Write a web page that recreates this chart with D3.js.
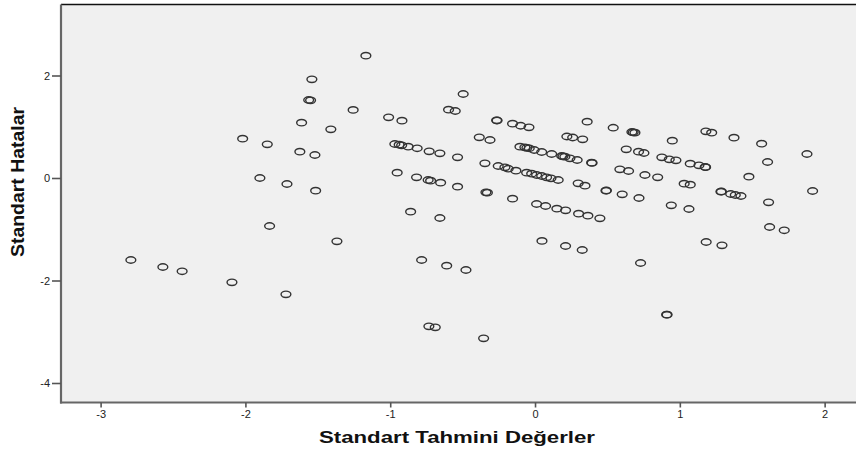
<!DOCTYPE html>
<html><head><meta charset="utf-8">
<script src="https://cdn.jsdelivr.net/npm/d3@7"></script>
<style>html,body{margin:0;padding:0;background:#fff}svg{display:block}</style>
</head><body>
<svg id="c" width="856" height="452"></svg>
<script>
const xTitle = "Standart Tahmini Değerler";
const yTitle = "Standart Hatalar";
const xTicks = [-3, -2, -1, 0, 1, 2];
const yTicks = [-4, -2, 0, 2];

const predicted = [
 -1.168,-1.541,-1.563,-1.550,-1.256,-1.612,-1.410,-2.019,-1.849,-1.624,-1.520,-1.900,-1.713,-1.515,-1.833,-1.368,
 -2.791,-2.570,-2.437,-2.093,-1.720,
 -0.496,-0.597,-0.551,-1.011,-0.919,-0.265,-0.262,-0.155,-0.099,-0.042,0.360,-0.385,-0.311,0.220,0.260,0.329,
 -0.968,-0.938,-0.921,-0.876,-0.814,-0.731,-0.657,-0.535,
 -0.104,-0.070,-0.056,-0.040,-0.006,0.046,0.115,0.184,0.193,0.206,0.241,0.291,
 0.391,0.394,-0.346,
 -0.254,-0.208,-0.185,-0.132,-0.058,-0.023,0.011,0.046,0.080,0.110,0.160,
 -0.952,-0.818,-0.738,-0.721,-0.652,-0.535,
 0.298,0.345,-0.339,-0.329,-0.155,
 0.011,0.073,0.151,0.211,0.301,0.365,0.448,
 -0.859,-0.657,0.048,0.211,0.326,-0.783,-0.610,-0.477,0.729,-0.733,-0.689,-0.355,0.909,0.912,
 0.540,0.669,0.678,0.690,0.948,1.180,1.220,1.374,1.565,1.878,0.630,0.715,0.752,0.876,0.927,0.973,
 1.072,1.132,1.175,1.178,1.606,0.586,0.646,0.759,0.847,1.477,0.490,0.493,0.602,0.718,1.030,1.072,
 1.284,1.287,1.351,1.383,1.422,1.917,1.613,0.941,1.063,1.620,1.721,1.182,1.291
];
const residuals = [
 2.386,1.926,1.522,1.516,1.328,1.079,0.950,0.767,0.658,0.513,0.449,0.000,-0.117,-0.248,-0.937,-1.235,
 -1.600,-1.737,-1.820,-2.035,-2.269,
 1.639,1.333,1.307,1.184,1.118,1.126,1.122,1.060,1.020,0.989,1.099,0.794,0.741,0.810,0.790,0.755,
 0.663,0.650,0.638,0.611,0.580,0.521,0.482,0.404,
 0.611,0.599,0.589,0.580,0.546,0.507,0.468,0.429,0.423,0.416,0.384,0.351,
 0.299,0.295,0.287,
 0.234,0.209,0.181,0.142,0.103,0.084,0.059,0.039,0.014,-0.006,-0.039,
 0.103,0.014,-0.039,-0.053,-0.092,-0.170,
 -0.103,-0.150,-0.279,-0.287,-0.404,
 -0.507,-0.546,-0.599,-0.630,-0.697,-0.736,-0.786,
 -0.658,-0.780,-1.227,-1.327,-1.405,-1.600,-1.711,-1.795,-1.659,-2.894,-2.913,-3.128,-2.667,-2.667,
 0.981,0.898,0.892,0.884,0.728,0.911,0.884,0.786,0.669,0.468,0.560,0.513,0.488,0.404,0.365,0.345,
 0.279,0.248,0.215,0.211,0.312,0.170,0.137,0.059,0.014,0.025,-0.248,-0.244,-0.318,-0.390,-0.111,-0.131,
 -0.267,-0.263,-0.312,-0.332,-0.351,-0.254,-0.474,-0.533,-0.605,-0.956,-1.020,-1.249,-1.313
];

const svg = d3.select("#c");
const L = 61, R = 856, T = 4.5, B = 402.5;
const x = d3.scaleLinear().domain([-3.2735, 2.2166]).range([L, R]);
const y = d3.scaleLinear().domain([-4.3805, 3.3854]).range([B, T]);

svg.append("rect").attr("x", L).attr("y", T).attr("width", R - L).attr("height", B - T).attr("fill", "#f0f0f0");

const points = predicted.map((v, i) => [v, residuals[i]]);
svg.append("g").selectAll("ellipse").data(points).join("ellipse")
  .attr("cx", d => x(d[0])).attr("cy", d => y(d[1]))
  .attr("rx", 4.9).attr("ry", 3.2)
  .attr("fill", "none").attr("stroke", "#333").attr("stroke-width", 1.4);

// top border
svg.append("line").attr("x1", L).attr("x2", R).attr("y1", T).attr("y2", T).attr("stroke", "#111").attr("stroke-width", 1.6);

const fmt = d => String(d);
const xa = svg.append("g").attr("transform", `translate(0,${B})`)
  .call(d3.axisBottom(x).tickValues(xTicks).tickFormat(fmt).tickSize(5).tickPadding(3).tickSizeOuter(0));
const ya = svg.append("g").attr("transform", `translate(${L},0)`)
  .call(d3.axisLeft(y).tickValues(yTicks).tickFormat(fmt).tickSize(9).tickPadding(2).tickSizeOuter(0));
[xa, ya].forEach(a => {
  a.select(".domain").attr("stroke", "#666").attr("stroke-width", 2.2);
  a.selectAll(".tick line").attr("stroke", "#555").attr("stroke-width", 1.6);
  a.selectAll(".tick text").attr("fill", "#222").style("font-family", "'Liberation Sans', Arial, sans-serif").style("font-size", "11px");
});
xa.select(".domain").attr("d", `M${L-1},0H${R}`);
ya.select(".domain").attr("d", `M0,${T}V${B+1}`);

svg.append("text").attr("x", 457).attr("y", 443).attr("text-anchor", "middle")
  .style("font-family", "'Liberation Sans', Arial, sans-serif").style("font-weight", "bold").style("font-size", "17px")
  .attr("textLength", 276).attr("lengthAdjust", "spacingAndGlyphs")
  .attr("fill", "#111").text(xTitle);

svg.append("text").attr("transform", "translate(24,182) rotate(-90)").attr("text-anchor", "middle")
  .style("font-family", "'Liberation Sans Narrow', 'Liberation Sans', Arial, sans-serif").style("font-weight", "bold").style("font-size", "19px")
  .attr("textLength", 150).attr("lengthAdjust", "spacingAndGlyphs")
  .attr("fill", "#111").text(yTitle);
</script>
</body></html>
